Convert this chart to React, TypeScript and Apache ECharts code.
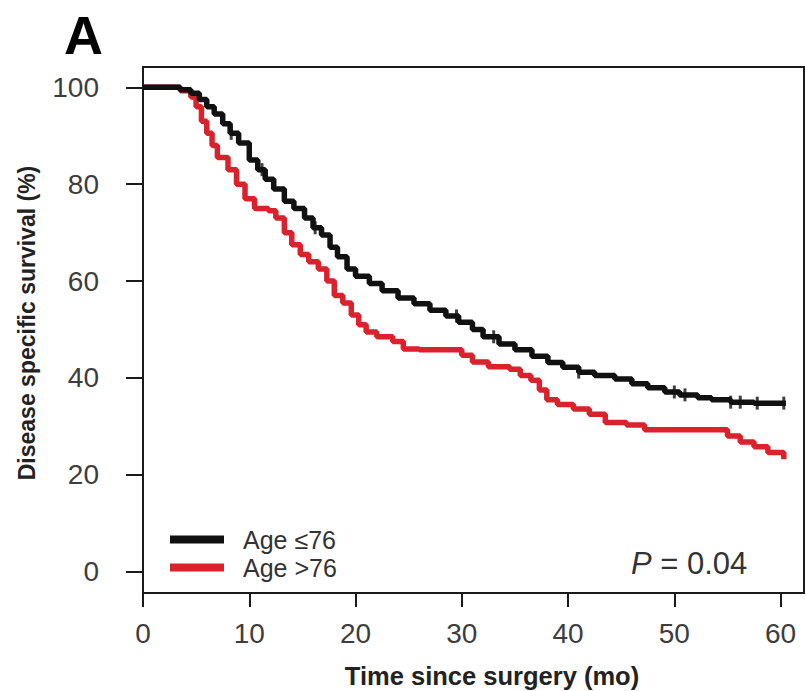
import React, { useEffect, useRef } from "react";
import * as echarts from "echarts";

// Kaplan-Meier estimates: [months, survival %]
const youngerTimes = [0, 2.0, 3.5, 4.5, 5.3, 6.0, 6.7, 7.5, 8.2, 9.0, 10.0, 10.8, 11.5, 12.3, 13.3, 14.2, 15.2, 16.0, 16.8, 17.6, 18.3, 19.2, 20.0, 21.3, 22.5, 24.0, 25.5, 27.0, 28.5, 29.7, 31.0, 32.0, 33.5, 35.0, 36.6, 38.1, 39.5, 41.0, 42.5, 44.4, 46.0, 47.5, 49.1, 50.5, 52.2, 53.5, 55.3, 57.5, 60.5];
const youngerSurvival = [100, 100, 99.5, 98.8, 97.5, 96, 94.5, 92.5, 90.5, 88.5, 85, 83, 81, 79, 76.5, 75, 73, 71, 69.5, 67, 65, 62.5, 61, 59.5, 58, 56.5, 55.3, 54, 52.8, 51.5, 50, 48.5, 47, 45.8, 44.5, 43.2, 42.2, 41.2, 40.5, 39.8, 38.8, 38, 37.1, 36.5, 35.9, 35.5, 35, 34.8, 34.8];

const olderTimes = [0, 2.5, 3.5, 4.5, 5.0, 5.5, 6.0, 6.5, 7.0, 8.0, 8.8, 9.6, 10.5, 11.8, 12.5, 13.3, 14.0, 14.8, 15.6, 16.5, 17.3, 18.0, 18.8, 19.6, 20.3, 21.0, 22.0, 23.5, 24.5, 26.0, 29.0, 30.0, 31.0, 32.5, 34.5, 35.5, 36.5, 37.3, 38.0, 39.0, 40.5, 42.0, 43.5, 45.5, 47.2, 54.0, 55.0, 56.2, 57.5, 58.8, 60.3];
const olderSurvival = [100, 100, 99.3, 98, 96, 93, 90.5, 88, 85.5, 83, 80, 77, 75, 74.5, 73, 70, 67.5, 65.5, 64, 62.5, 60, 57, 55.5, 53, 51, 49.5, 48.5, 47.5, 46, 45.8, 45.8, 44.7, 43.3, 42.3, 41.8, 40.5, 39.5, 37.5, 35.5, 34.5, 33.6, 32.5, 30.8, 30.3, 29.3, 29.3, 28, 26.8, 25.8, 24.6, 23.2];

// censoring marks on the younger group's curve
const youngerCensorTimes = [8.3, 11.2, 16.2, 29.5, 33.0, 41.0, 50.0, 51.0, 55.3, 56.2, 57.8, 60.3];

const xTicks = [0, 10, 20, 30, 40, 50, 60];
const yTicks = [0, 20, 40, 60, 80, 100];

const seriesNames = ["Age \u226476", "Age >76"];
const seriesColors = ["#111111", "#d9222b"];
const pValueText = "0.04";

function survivalAt(times: number[], surv: number[], t: number) {
  let s = surv[0];
  for (let i = 0; i < times.length; i++) {
    if (times[i] <= t) s = surv[i];
  }
  return s;
}

export default function App() {
  const ref = useRef<HTMLDivElement>(null);
  useEffect(() => {
    if (!ref.current) return;
    const chart = echarts.init(ref.current, undefined, { renderer: "svg" });
    const font = "'Liberation Sans', Arial, sans-serif";
    const younger = youngerTimes.map((t, i) => [t, youngerSurvival[i]]);
    const older = olderTimes.map((t, i) => [t, olderSurvival[i]]);
    const censor = youngerCensorTimes.map((t) => [t, survivalAt(youngerTimes, youngerSurvival, t)]);
    chart.setOption({
      animation: false,
      backgroundColor: "#ffffff",
      grid: {
        left: 143,
        top: 67,
        right: 2,
        bottom: 98,
        show: true,
        borderColor: "#1a1a1a",
        borderWidth: 2,
        backgroundColor: "transparent",
      },
      xAxis: {
        type: "value",
        min: 0,
        max: 62.2,
        splitLine: { show: false },
        axisLine: { show: true, onZero: false, lineStyle: { color: "#1a1a1a", width: 2 } },
        axisTick: { show: true, customValues: xTicks, length: 14, lineStyle: { color: "#1a1a1a", width: 2 } },
        axisLabel: { customValues: xTicks, margin: 26, fontSize: 28, color: "#3d3d3d", fontFamily: font },
      },
      yAxis: {
        type: "value",
        min: -4.4,
        max: 104.2,
        splitLine: { show: false },
        axisLine: { show: true, onZero: false, lineStyle: { color: "#1a1a1a", width: 2 } },
        axisTick: { show: true, customValues: yTicks, length: 17, lineStyle: { color: "#1a1a1a", width: 2 } },
        axisLabel: { customValues: yTicks, margin: 44, fontSize: 28, color: "#3d3d3d", fontFamily: font },
      },
      legend: {
        data: seriesNames,
        orient: "vertical",
        left: 165,
        top: 522,
        icon: "rect",
        itemWidth: 54,
        itemHeight: 8,
        itemGap: 3,
        selectedMode: false,
        textStyle: { fontSize: 25, lineHeight: 24, color: "#333", fontFamily: font, padding: [0, 0, 0, 14] },
      },
      series: [
        {
          name: seriesNames[0],
          type: "line",
          step: "end",
          data: younger,
          showSymbol: false,
          symbol: "none",
          lineStyle: { color: seriesColors[0], width: 5.5 },
          itemStyle: { color: seriesColors[0] },
          z: 3,
        },
        {
          name: seriesNames[1],
          type: "line",
          step: "end",
          data: older,
          showSymbol: false,
          symbol: "none",
          lineStyle: { color: seriesColors[1], width: 5.5 },
          itemStyle: { color: seriesColors[1] },
          z: 2,
        },
        {
          name: "censored",
          type: "scatter",
          data: censor,
          symbol: "rect",
          symbolSize: [3, 13],
          itemStyle: { color: seriesColors[0] },
          z: 4,
        },
      ],
      graphic: [
        {
          type: "text",
          left: 64,
          top: 8,
          style: { text: "A", fontSize: 54, fontWeight: "bold", fill: "#000", fontFamily: font },
        },
        {
          type: "text",
          x: 27,
          y: 323,
          rotation: Math.PI / 2,
          style: {
            text: "Disease specific survival (%)",
            fontSize: 23,
            fontWeight: "bold",
            fill: "#222",
            fontFamily: font,
            align: "center",
            verticalAlign: "middle",
          },
        },
        {
          type: "text",
          x: 492,
          y: 676,
          style: {
            text: "Time since surgery (mo)",
            fontSize: 25.5,
            fontWeight: "bold",
            fill: "#222",
            fontFamily: font,
            align: "center",
            verticalAlign: "middle",
          },
        },
        {
          type: "text",
          x: 631,
          y: 563,
          style: {
            text: "{i|P} = " + pValueText,
            fontSize: 31,
            fill: "#333",
            fontFamily: font,
            verticalAlign: "middle",
            rich: { i: { fontStyle: "italic", fontSize: 31, fill: "#333", fontFamily: font } },
          },
        },
      ],
    });
    return () => chart.dispose();
  }, []);
  return <div ref={ref} style={{ width: 806, height: 691, position: "absolute", left: 0, top: 0 }} />;
}
